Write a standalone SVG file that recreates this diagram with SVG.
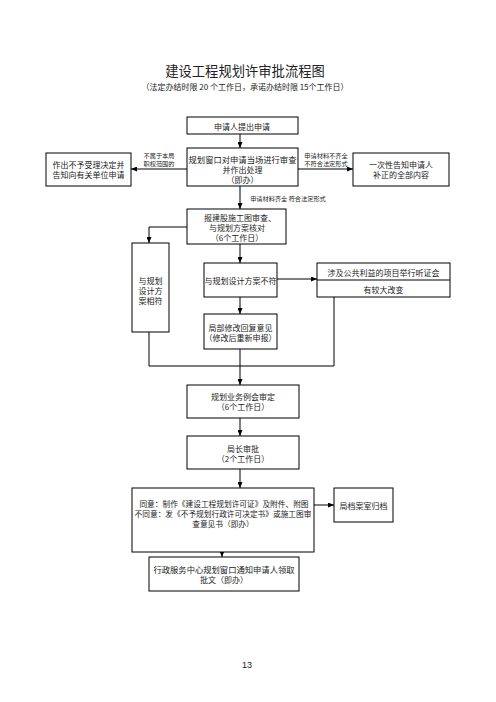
<svg xmlns="http://www.w3.org/2000/svg" width="496" height="702" viewBox="0 0 496 702">
<style>
  .box{fill:#fff;stroke:#000;stroke-width:1}
  .t{font-family:"Noto Sans CJK SC","Liberation Serif",sans-serif;font-size:8px;fill:#222;text-anchor:middle;dominant-baseline:central}
  .s{font-size:6.2px}
  .c{fill:none;stroke:#000;stroke-width:1}
</style>
<defs>
  <marker id="ah" markerWidth="6" markerHeight="5" refX="6" refY="2.5" orient="auto" markerUnits="userSpaceOnUse">
    <path d="M0,0 L6,2.5 L0,5 Z" fill="#000"/>
  </marker>
</defs>
<rect width="496" height="702" fill="#fff"/>
<g id="title">
  <text class="t" x="245" y="70" style="font-size:13.3px">建设工程规划许审批流程图</text>
  <text class="t" x="245" y="86" style="font-size:8px">（法定办结时限 20 个工作日，承诺办结时限 15个工作日）</text>
</g>
<g id="connectors">
  <line class="c" x1="240" y1="134" x2="240" y2="148" marker-end="url(#ah)"/>
  <line class="c" x1="187" y1="169" x2="131" y2="169" marker-end="url(#ah)"/>
  <line class="c" x1="298" y1="169" x2="353" y2="169" marker-end="url(#ah)"/>
  <line class="c" x1="240" y1="186" x2="240" y2="209" marker-end="url(#ah)"/>
  <polyline class="c" points="187,227 149,227 149,243" marker-end="url(#ah)"/>
  <line class="c" x1="240" y1="244" x2="240" y2="263" marker-end="url(#ah)"/>
  <line class="c" x1="277" y1="279" x2="317" y2="279" marker-end="url(#ah)"/>
  <line class="c" x1="240" y1="297" x2="240" y2="314" marker-end="url(#ah)"/>
  <line class="c" x1="240" y1="349" x2="240" y2="385" marker-end="url(#ah)"/>
  <polyline class="c" points="149,332 149,366 334,366 334,297"/>
  <line class="c" x1="240" y1="418" x2="240" y2="436" marker-end="url(#ah)"/>
  <line class="c" x1="240" y1="469" x2="240" y2="488" marker-end="url(#ah)"/>
  <line class="c" x1="314" y1="505" x2="334" y2="505" marker-end="url(#ah)"/>
  <line class="c" x1="222" y1="552" x2="222" y2="557" marker-end="url(#ah)"/>
  <text class="t s" x="159" y="155">不属于本局</text>
  <text class="t s" x="159" y="163">职权范围的</text>
  <text class="t s" x="326" y="155">申请材料不齐全</text>
  <text class="t s" x="326" y="163">不符合法定形式</text>
  <text class="t s" x="288" y="198">申请材料齐全  符合法定形式</text>
</g>
<g id="n1">
  <rect class="box" x="187" y="117" width="111" height="17"/>
  <text class="t" x="242" y="126">申请人提出申请</text>
</g>
<g id="n2">
  <rect class="box" x="187" y="148" width="111" height="38"/>
  <text class="t" x="242.5" y="159" style="font-size:8.3px">规划窗口对申请当场进行审查</text>
  <text class="t" x="242.5" y="169">并作出处理</text>
  <text class="t" x="242.5" y="179">（即办）</text>
</g>
<g id="n_reject">
  <rect class="box" x="46" y="153" width="85" height="33"/>
  <text class="t" x="88.5" y="164">作出不予受理决定并</text>
  <text class="t" x="88.5" y="174">告知向有关单位申请</text>
</g>
<g id="n_supplement">
  <rect class="box" x="353" y="153" width="96" height="33"/>
  <text class="t" x="401" y="164">一次性告知申请人</text>
  <text class="t" x="401" y="174">补正的全部内容</text>
</g>
<g id="n3">
  <rect class="box" x="187" y="209" width="99" height="35"/>
  <text class="t" x="240" y="217">报建股施工图审查、</text>
  <text class="t" x="237" y="227">与规划方案核对</text>
  <text class="t" x="237" y="237">（6个工作日）</text>
</g>
<g id="n_match">
  <rect class="box" x="132" y="243" width="37" height="89"/>
  <text class="t" x="150.5" y="280">与规划</text>
  <text class="t" x="150.5" y="290">设计方</text>
  <text class="t" x="150.5" y="300">案相符</text>
</g>
<g id="n_mismatch">
  <rect class="box" x="204" y="263" width="73" height="34"/>
  <text class="t" x="240.5" y="280">与规划设计方案不符</text>
</g>
<g id="n_hearing">
  <rect class="box" x="317" y="263" width="133" height="34"/>
  <line class="c" x1="317" y1="280" x2="450" y2="280"/>
  <text class="t" x="383.5" y="272">涉及公共利益的项目举行听证会</text>
  <text class="t" x="383.5" y="289">有较大改变</text>
</g>
<g id="n_modify">
  <rect class="box" x="204" y="314" width="73" height="35"/>
  <text class="t" x="240.5" y="327">局部修改回复意见</text>
  <text class="t" x="240.5" y="337">（修改后重新申报）</text>
</g>
<g id="n_meeting">
  <rect class="box" x="187" y="385" width="112" height="33"/>
  <text class="t" x="243" y="396">规划业务例会审定</text>
  <text class="t" x="243" y="406">（6个工作日）</text>
</g>
<g id="n_director">
  <rect class="box" x="187" y="436" width="112" height="33"/>
  <text class="t" x="243" y="448">局长审批</text>
  <text class="t" x="243" y="458">（2个工作日）</text>
</g>
<g id="n_decision">
  <rect class="box" x="132" y="488" width="182" height="64"/>
  <text class="t" x="224" y="503" style="font-size:7.7px">同意：制作《建设工程规划许可证》及附件、附图</text>
  <text class="t" x="223" y="513" style="font-size:7.7px">不同意：发《不予规划行政许可决定书》或施工图审</text>
  <text class="t" x="223" y="523" style="font-size:7.7px">查意见书（即办）</text>
</g>
<g id="n_archive">
  <rect class="box" x="334" y="488" width="59" height="34"/>
  <text class="t" x="363.5" y="505">局档案室归档</text>
</g>
<g id="n_notify">
  <rect class="box" x="149" y="557" width="150" height="34"/>
  <text class="t" x="224" y="569" style="font-size:8.3px">行政服务中心规划窗口通知申请人领取</text>
  <text class="t" x="224" y="579">批文（即办）</text>
</g>
<text class="t" x="247" y="665" style="font-family:'Liberation Sans',sans-serif;font-size:9px">13</text>
</svg>
